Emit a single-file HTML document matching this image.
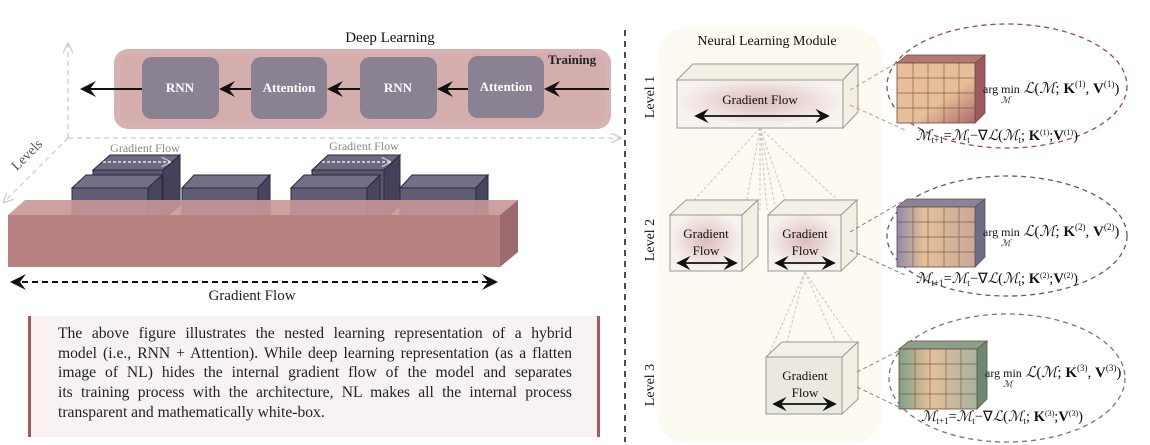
<!DOCTYPE html>
<html><head><meta charset="utf-8"><style>
body{margin:0;width:1150px;height:445px;background:#fff;overflow:hidden;position:relative;font-family:"Liberation Serif",serif}
svg{position:absolute;left:0;top:0}
.tb{position:absolute;left:28px;top:316px;width:572px;height:121px;background:#f8f3f2;border-left:3px solid #a55a5c;border-right:3px solid #a55a5c;box-sizing:border-box;padding:8px 25px 0 27px;font-size:15.6px;line-height:19.7px;color:#222}
.tb div{text-align:justify;text-align-last:justify;white-space:nowrap}
.tb div.l{text-align-last:left}
</style></head><body>
<svg width="1150" height="445" viewBox="0 0 1150 445" font-family="Liberation Serif, serif">
<defs>
<marker id="ah" markerWidth="8" markerHeight="8" refX="7" refY="4" orient="auto"><path d="M0,0 L8,4 L0,8 L3,4z" fill="#111"/></marker>
<marker id="ahs" markerWidth="8" markerHeight="8" refX="1" refY="4" orient="auto"><path d="M8,0 L0,4 L8,8 L5,4z" fill="#111"/></marker>
<marker id="gh" markerWidth="8" markerHeight="8" refX="7" refY="4" orient="auto"><path d="M0,0 L8,4 L0,8" fill="none" stroke="#ccc"/></marker>
<radialGradient id="pg" cx="50%" cy="45%" r="50%"><stop offset="0" stop-color="#dcbcbc"/><stop offset="1" stop-color="#f7f2ee"/></radialGradient>
<linearGradient id="cub1" x1="0" y1="0" x2="1" y2="1"><stop offset="0" stop-color="#e8bf98"/><stop offset=".6" stop-color="#e6bf98"/><stop offset="1" stop-color="#b06a6a"/></linearGradient>
<linearGradient id="cub2" x1="0" y1="0" x2="1" y2="0"><stop offset="0" stop-color="#8e8ca8"/><stop offset=".35" stop-color="#e6bf98"/><stop offset="1" stop-color="#c9a898"/></linearGradient>
<linearGradient id="cub3" x1="0" y1="0" x2="1" y2="0"><stop offset="0" stop-color="#7fa088"/><stop offset=".4" stop-color="#e6bf98"/><stop offset="1" stop-color="#a8b4a0"/></linearGradient>
</defs>
<g stroke="#ccc" stroke-width="1.3" stroke-dasharray="5,4" fill="none">
<line x1="68" y1="138" x2="68" y2="44" marker-end="url(#gh)"/>
<line x1="68" y1="138" x2="620" y2="138" marker-end="url(#gh)"/>
<line x1="68" y1="138" x2="4" y2="202" marker-end="url(#gh)"/>
</g>
<text x="30" y="158" font-size="14" fill="#555" transform="rotate(-45 30 158)" text-anchor="middle">Levels</text>
<text x="390" y="42" font-size="15" text-anchor="middle" fill="#111">Deep Learning</text>
<rect x="114" y="49" width="497" height="80" rx="14" fill="#d7b2b2"/>
<rect x="120" y="53" width="485" height="72" rx="12" fill="#d2aaaa" opacity=".6"/>
<text x="548" y="64" font-size="13" font-weight="bold" fill="#222">Training</text>
<g fill="#8a8193">
<rect x="142" y="57" width="77" height="62" rx="10"/>
<rect x="251" y="57" width="76" height="62" rx="10"/>
<rect x="360" y="57" width="77" height="62" rx="10"/>
<rect x="468" y="56" width="76" height="62" rx="10"/>
</g>
<g font-size="13" font-weight="bold" fill="#fff" text-anchor="middle">
<text x="180" y="92">RNN</text><text x="289" y="92">Attention</text><text x="398" y="92">RNN</text><text x="506" y="91">Attention</text>
</g>
<g stroke="#111" stroke-width="2" marker-end="url(#ah)">
<line x1="609" y1="89" x2="546" y2="89"/>
<line x1="468" y1="89" x2="439" y2="89"/>
<line x1="360" y1="89" x2="329" y2="89"/>
<line x1="251" y1="89" x2="221" y2="89"/>
<line x1="142" y1="89" x2="82" y2="89"/>
</g>
<g font-size="12" fill="#888" text-anchor="middle"><text x="145" y="152">Gradient Flow</text><text x="364" y="150">Gradient Flow</text></g>
<g stroke="#2a2a3a" stroke-width="1">
<path d="M93,170 L163,170 L180,155 L110,155z" fill="#6d6a80"/><rect x="93" y="170" width="70" height="50" fill="#5a5770"/><path d="M163,170 L180,155 L180,205 L163,220z" fill="#44425a"/>
<path d="M312,170 L384,170 L400,155 L328,155z" fill="#6d6a80"/><rect x="312" y="170" width="72" height="50" fill="#5a5770"/><path d="M384,170 L400,155 L400,205 L384,220z" fill="#44425a"/>
<path d="M72,188 L148,188 L162,175 L86,175z" fill="#727088"/><rect x="72" y="188" width="76" height="40" fill="#5f5c75"/><path d="M148,188 L162,175 L162,215 L148,228z" fill="#48465e"/>
<path d="M182,188 L258,188 L270,175 L194,175z" fill="#727088"/><rect x="182" y="188" width="76" height="40" fill="#5f5c75"/><path d="M258,188 L270,175 L270,215 L258,228z" fill="#48465e"/>
<path d="M291,188 L367,188 L380,175 L304,175z" fill="#727088"/><rect x="291" y="188" width="76" height="40" fill="#5f5c75"/><path d="M367,188 L380,175 L380,215 L367,228z" fill="#48465e"/>
<path d="M400,188 L476,188 L488,175 L412,175z" fill="#727088"/><rect x="400" y="188" width="76" height="40" fill="#5f5c75"/><path d="M476,188 L488,175 L488,215 L476,228z" fill="#48465e"/>
</g>
<g stroke="#fff" stroke-width="1.2" stroke-dasharray="3,2" marker-end="url(#gh)"><line x1="103" y1="162" x2="170" y2="162"/><line x1="322" y1="162" x2="390" y2="162"/></g>
<path d="M8,215 L25,200 L518,200 L500,215z" fill="#c79797" opacity=".9"/>
<rect x="8" y="215" width="492" height="52" fill="#b88282"/>
<path d="M500,215 L518,200 L518,252 L500,267z" fill="#9a6a6c"/>
<line x1="12" y1="282" x2="496" y2="282" stroke="#111" stroke-width="2" stroke-dasharray="6,4" marker-end="url(#ah)" marker-start="url(#ahs)"/>
<text x="252" y="300" font-size="15" text-anchor="middle" fill="#222">Gradient Flow</text>
<line x1="625" y1="30" x2="625" y2="442" stroke="#111" stroke-width="1.5" stroke-dasharray="6,5"/>
<rect x="657" y="28" width="225" height="415" rx="30" fill="#fcfaf1"/>
<text x="767" y="45" font-size="14" text-anchor="middle" fill="#111">Neural Learning Module</text>
<g font-size="14" fill="#111" text-anchor="middle">
<text transform="translate(654,97) rotate(-90)">Level 1</text>
<text transform="translate(654,240) rotate(-90)">Level 2</text>
<text transform="translate(654,385) rotate(-90)">Level 3</text>
</g>
<g stroke="#c8c8c0" stroke-width="1" stroke-dasharray="3,2" fill="none">
<path d="M760,128 L685,210 M760,128 L745,210 M760,128 L760,210 M760,128 L787,205 M760,128 L843,205 M760,128 L767,210 M760,128 L775,205"/>
<path d="M805,272 L770,352 M805,272 L785,350 M805,272 L840,352 M805,272 L855,345"/>
</g>
<g stroke="#999" stroke-width="1">
<path d="M677,80 L693,64 L858,64 L843,80z" fill="#f5f0e6"/><rect x="677" y="80" width="166" height="48" fill="url(#pg)"/><path d="M843,80 L858,64 L858,112 L843,128z" fill="#f3efe3"/>
<path d="M670,215 L686,200 L758,200 L742,215z" fill="#f5f0e6"/><rect x="670" y="215" width="72" height="56" fill="url(#pg)"/><path d="M742,215 L758,200 L758,256 L742,271z" fill="#f3efe3"/>
<path d="M768,215 L784,200 L857,200 L841,215z" fill="#f5f0e6"/><rect x="768" y="215" width="73" height="56" fill="url(#pg)"/><path d="M841,215 L857,200 L857,256 L841,271z" fill="#f3efe3"/>
<path d="M766,357 L782,342 L858,342 L842,357z" fill="#f5f0e6"/><rect x="766" y="357" width="76" height="57" fill="#ebe8e0"/><path d="M842,357 L858,342 L858,399 L842,414z" fill="#f3efe3"/>
</g>
<g font-size="13" fill="#111" text-anchor="middle">
<text x="760" y="104">Gradient Flow</text>
<text x="706" y="238">Gradient</text><text x="706" y="255">Flow</text>
<text x="805" y="238">Gradient</text><text x="805" y="255">Flow</text>
<text x="805" y="380">Gradient</text><text x="805" y="397">Flow</text>
</g>
<g stroke="#111" stroke-width="1.8" marker-end="url(#ah)" marker-start="url(#ahs)">
<line x1="696" y1="116" x2="828" y2="116"/><line x1="678" y1="263" x2="736" y2="263"/><line x1="776" y1="263" x2="834" y2="263"/><line x1="774" y1="404" x2="835" y2="404"/>
</g>
<g fill="none" stroke-width="1.3" stroke-dasharray="5,4">
<ellipse cx="1007" cy="86" rx="120" ry="62" stroke="#a0464c"/>
<ellipse cx="1007" cy="236" rx="120" ry="60" stroke="#5a5a82"/>
<ellipse cx="1007" cy="378" rx="118" ry="64" stroke="#777"/>
</g>
<g stroke-width="1" stroke-dasharray="4,3">
<path d="M850,90 L910,55 M850,105 L905,130" stroke="#d09090"/>
<path d="M850,232 L905,200 M850,250 L905,275" stroke="#7a7aa0"/>
<path d="M857,372 L910,345 M857,387 L905,410" stroke="#888"/>
</g>
<g stroke="#6a4a40" stroke-width=".8">
<path d="M897,63 L907,55 L985,55 L975,63z" fill="#b07a72"/><path d="M975,63 L985,55 L985,113 L975,123z" fill="#9a5a5e"/><rect x="897" y="63" width="78" height="60" fill="url(#cub1)"/>
<path d="M897,207 L907,199 L985,199 L975,207z" fill="#8a8498"/><path d="M975,207 L985,199 L985,257 L975,267z" fill="#6e6c88"/><rect x="897" y="207" width="78" height="60" fill="url(#cub2)"/>
<path d="M899,349 L909,341 L987,341 L977,349z" fill="#8aa08a"/><path d="M977,349 L987,341 L987,399 L977,409z" fill="#6a8a72"/><rect x="899" y="349" width="78" height="60" fill="url(#cub3)"/>
</g>
<g stroke="#6a4a40" stroke-width=".7" opacity=".8">
<path d="M897,78H975M897,93H975M897,108H975M913,63V123M928,63V123M944,63V123M959,63V123"/>
<path d="M897,222H975M897,237H975M897,252H975M913,207V267M928,207V267M944,207V267M959,207V267"/>
<path d="M899,364H977M899,379H977M899,394H977M915,349V409M930,349V409M946,349V409M961,349V409"/>
</g>
<g font-size="15" fill="#111">
<text x="983" y="93"><tspan font-size="12">arg min</tspan> <tspan font-style="italic">ℒ</tspan>(<tspan font-style="italic">ℳ</tspan>; <tspan font-weight="bold">K</tspan><tspan font-size="9" dy="-6">(1)</tspan><tspan dy="6">, </tspan><tspan font-weight="bold">V</tspan><tspan font-size="9" dy="-6">(1)</tspan><tspan dy="6">)</tspan></text>
<text x="1001" y="103" font-size="9" font-style="italic">ℳ</text>
<text x="916" y="140" font-size="14.5"><tspan font-style="italic">ℳ</tspan><tspan font-size="9" dy="3">t+1</tspan><tspan dy="-3">=</tspan><tspan font-style="italic">ℳ</tspan><tspan font-size="9" dy="3">t</tspan><tspan dy="-3">−∇</tspan><tspan font-style="italic">ℒ</tspan>(<tspan font-style="italic">ℳ</tspan><tspan font-size="9" dy="3">t</tspan><tspan dy="-3">; </tspan><tspan font-weight="bold">K</tspan><tspan font-size="8" dy="-5">(1)</tspan><tspan dy="5">;</tspan><tspan font-weight="bold">V</tspan><tspan font-size="8" dy="-5">(1)</tspan><tspan dy="5">)</tspan></text>
<text x="983" y="236"><tspan font-size="12">arg min</tspan> <tspan font-style="italic">ℒ</tspan>(<tspan font-style="italic">ℳ</tspan>; <tspan font-weight="bold">K</tspan><tspan font-size="9" dy="-6">(2)</tspan><tspan dy="6">, </tspan><tspan font-weight="bold">V</tspan><tspan font-size="9" dy="-6">(2)</tspan><tspan dy="6">)</tspan></text>
<text x="1001" y="246" font-size="9" font-style="italic">ℳ</text>
<text x="916" y="283" font-size="14.5"><tspan font-style="italic">ℳ</tspan><tspan font-size="9" dy="3">t+1</tspan><tspan dy="-3">=</tspan><tspan font-style="italic">ℳ</tspan><tspan font-size="9" dy="3">t</tspan><tspan dy="-3">−∇</tspan><tspan font-style="italic">ℒ</tspan>(<tspan font-style="italic">ℳ</tspan><tspan font-size="9" dy="3">t</tspan><tspan dy="-3">; </tspan><tspan font-weight="bold">K</tspan><tspan font-size="8" dy="-5">(2)</tspan><tspan dy="5">;</tspan><tspan font-weight="bold">V</tspan><tspan font-size="8" dy="-5">(2)</tspan><tspan dy="5">)</tspan></text>
<text x="985" y="377"><tspan font-size="12">arg min</tspan> <tspan font-style="italic">ℒ</tspan>(<tspan font-style="italic">ℳ</tspan>; <tspan font-weight="bold">K</tspan><tspan font-size="9" dy="-6">(3)</tspan><tspan dy="6">, </tspan><tspan font-weight="bold">V</tspan><tspan font-size="9" dy="-6">(3)</tspan><tspan dy="6">)</tspan></text>
<text x="1003" y="387" font-size="9" font-style="italic">ℳ</text>
<text x="921" y="421" font-size="14.5"><tspan font-style="italic">ℳ</tspan><tspan font-size="9" dy="3">t+1</tspan><tspan dy="-3">=</tspan><tspan font-style="italic">ℳ</tspan><tspan font-size="9" dy="3">t</tspan><tspan dy="-3">−∇</tspan><tspan font-style="italic">ℒ</tspan>(<tspan font-style="italic">ℳ</tspan><tspan font-size="9" dy="3">t</tspan><tspan dy="-3">; </tspan><tspan font-weight="bold">K</tspan><tspan font-size="8" dy="-5">(3)</tspan><tspan dy="5">;</tspan><tspan font-weight="bold">V</tspan><tspan font-size="8" dy="-5">(3)</tspan><tspan dy="5">)</tspan></text>
</g>
</svg>
<div class="tb">
<div>The above figure illustrates the nested learning representation of a hybrid</div>
<div>model (i.e., RNN + Attention). While deep learning representation (as a flatten</div>
<div>image of NL) hides the internal gradient flow of the model and separates</div>
<div>its training process with the architecture, NL makes all the internal process</div>
<div class="l">transparent and mathematically white-box.</div>
</div>
</body></html>
